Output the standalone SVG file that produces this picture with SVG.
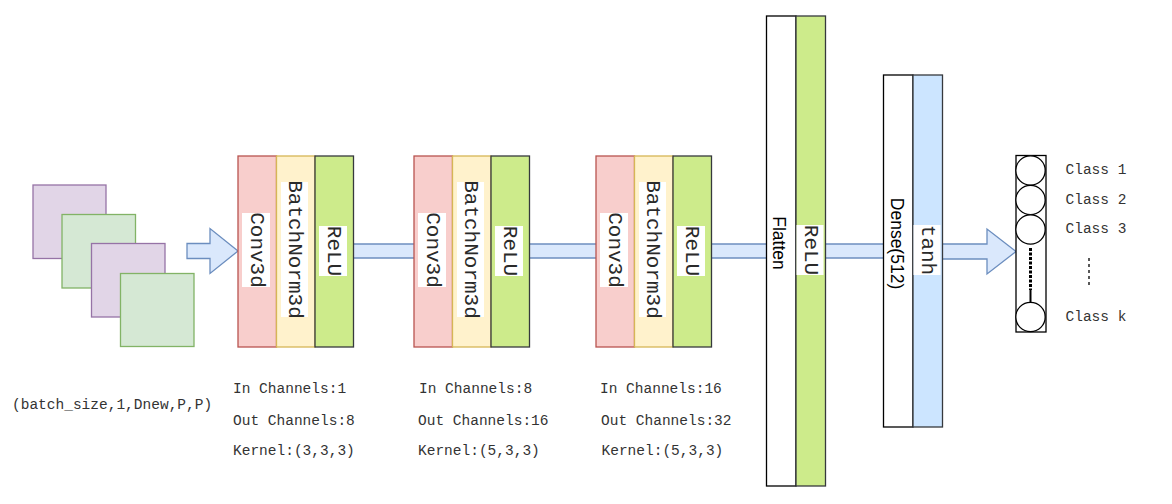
<svg xmlns="http://www.w3.org/2000/svg" width="1172" height="504" viewBox="0 0 1172 504">
  <style>
    .mono { font-family: "Liberation Mono", "Courier New", monospace; fill: #2a2a2a; }
    .sans { font-family: "Liberation Sans", Arial, sans-serif; fill: #000; }
    .small { font-size: 14.5px; fill: #333; }
    .vlabel { font-size: 21px; }
    .slabel { font-size: 17.5px; }
    .purple { fill: #e1d5e7; stroke: #9673a6; stroke-width: 1.3; }
    .green { fill: #d5e8d4; stroke: #82b366; stroke-width: 1.3; }
    .conv { fill: #f8cecc; stroke: #b85450; stroke-width: 1.3; }
    .bn { fill: #fff2cc; stroke: #d6b656; stroke-width: 1.3; }
    .relu { fill: #cdeb8b; stroke: #36393d; stroke-width: 1.3; }
    .plain { fill: #ffffff; stroke: #000000; stroke-width: 1.3; }
    .act { fill: #cce5ff; stroke: #36393d; stroke-width: 1.3; }
    .tag { fill: #ffffff; stroke: none; }
    .band { fill: #dae8fc; stroke: none; }
    .bandedge { stroke: #6c8ebf; stroke-width: 1.3; fill: none; }
    .bigarrow { fill: #dae8fc; stroke: #6c8ebf; stroke-width: 1.3; stroke-linejoin: miter; }
    .neuron { fill: #ffffff; stroke: #000000; stroke-width: 1.3; }
  </style>

  <!-- connectors: flat arrows between the layer stacks -->
  <g id="connectors">
    <polygon class="bigarrow" points="187,243.5 210,243.5 210,228.5 238,251 210,273.5 210,258.5 187,258.5"/>
    <rect class="band" x="353" y="244" width="61" height="14"/>
    <line class="bandedge" x1="353" y1="244" x2="414" y2="244"/>
    <line class="bandedge" x1="353" y1="258" x2="414" y2="258"/>
    <rect class="band" x="530" y="244" width="66" height="14"/>
    <line class="bandedge" x1="530" y1="244" x2="596" y2="244"/>
    <line class="bandedge" x1="530" y1="258" x2="596" y2="258"/>
    <rect class="band" x="712" y="244" width="54" height="14"/>
    <line class="bandedge" x1="712" y1="244" x2="766" y2="244"/>
    <line class="bandedge" x1="712" y1="258" x2="766" y2="258"/>
    <rect class="band" x="825" y="244" width="58" height="14"/>
    <line class="bandedge" x1="825" y1="244" x2="883" y2="244"/>
    <line class="bandedge" x1="825" y1="258" x2="883" y2="258"/>
    <polygon class="bigarrow" points="942,244 987,244 987,229 1016,251.5 987,274 987,259 942,259"/>
  </g>

  <!-- input volume: stacked slices -->
  <g id="input">
    <rect class="purple" x="33" y="185" width="73" height="73.5"/>
    <rect class="green" x="62" y="214.5" width="73.5" height="73.5"/>
    <rect class="purple" x="91.5" y="243.5" width="73.5" height="73.5"/>
    <rect class="green" x="120.5" y="273.5" width="73.5" height="73"/>
    <text class="mono small" x="12" y="409">(batch_size,1,Dnew,P,P)</text>
  </g>

  <!-- conv block 1 -->
  <g id="block1">
    <rect class="conv" x="238" y="156" width="38.5" height="191"/>
    <rect class="bn" x="276.5" y="156" width="38.5" height="191"/>
    <rect class="relu" x="315" y="156" width="38.5" height="191"/>
    <rect class="tag" x="242" y="213" width="28" height="74"/>
    <rect class="tag" x="281" y="182" width="27" height="135"/>
    <rect class="tag" x="319" y="226" width="28" height="50"/>
    <text class="mono vlabel" text-anchor="middle" dominant-baseline="central" transform="translate(256,250) rotate(90)">Conv3d</text>
    <text class="mono vlabel" text-anchor="middle" dominant-baseline="central" transform="translate(294.5,249.5) rotate(90)">BatchNorm3d</text>
    <text class="mono vlabel" text-anchor="middle" dominant-baseline="central" transform="translate(333,251) rotate(90)">ReLU</text>
    <text class="mono small" x="233" y="393">In Channels:1</text>
    <text class="mono small" x="233" y="424.5">Out Channels:8</text>
    <text class="mono small" x="233" y="454.5">Kernel:(3,3,3)</text>
  </g>

  <!-- conv block 2 -->
  <g id="block2">
    <rect class="conv" x="414" y="156" width="38.5" height="191"/>
    <rect class="bn" x="452.5" y="156" width="38.5" height="191"/>
    <rect class="relu" x="491" y="156" width="38.5" height="191"/>
    <rect class="tag" x="418" y="213" width="28" height="74"/>
    <rect class="tag" x="457" y="182" width="27" height="135"/>
    <rect class="tag" x="495" y="226" width="28" height="50"/>
    <text class="mono vlabel" text-anchor="middle" dominant-baseline="central" transform="translate(432,250) rotate(90)">Conv3d</text>
    <text class="mono vlabel" text-anchor="middle" dominant-baseline="central" transform="translate(470.5,249.5) rotate(90)">BatchNorm3d</text>
    <text class="mono vlabel" text-anchor="middle" dominant-baseline="central" transform="translate(509,251) rotate(90)">ReLU</text>
    <text class="mono small" x="419" y="393">In Channels:8</text>
    <text class="mono small" x="418" y="424.5">Out Channels:16</text>
    <text class="mono small" x="418" y="454.5">Kernel:(5,3,3)</text>
  </g>

  <!-- conv block 3 -->
  <g id="block3">
    <rect class="conv" x="596" y="156" width="38.5" height="191"/>
    <rect class="bn" x="634.5" y="156" width="38.5" height="191"/>
    <rect class="relu" x="673" y="156" width="38.5" height="191"/>
    <rect class="tag" x="600" y="213" width="28" height="74"/>
    <rect class="tag" x="639" y="182" width="27" height="135"/>
    <rect class="tag" x="677" y="226" width="28" height="50"/>
    <text class="mono vlabel" text-anchor="middle" dominant-baseline="central" transform="translate(614,250) rotate(90)">Conv3d</text>
    <text class="mono vlabel" text-anchor="middle" dominant-baseline="central" transform="translate(652.5,249.5) rotate(90)">BatchNorm3d</text>
    <text class="mono vlabel" text-anchor="middle" dominant-baseline="central" transform="translate(691,251) rotate(90)">ReLU</text>
    <text class="mono small" x="600" y="393">In Channels:16</text>
    <text class="mono small" x="601" y="424.5">Out Channels:32</text>
    <text class="mono small" x="601.5" y="454.5">Kernel:(5,3,3)</text>
  </g>

  <!-- flatten + relu -->
  <g id="flatten">
    <rect class="plain" x="766.5" y="16" width="29.5" height="470"/>
    <rect class="relu" x="796" y="16" width="29.5" height="470"/>
    <rect class="tag" x="796.5" y="225" width="27" height="50"/>
    <text class="sans slabel" text-anchor="middle" dominant-baseline="central" transform="translate(779,243) rotate(90)">Flatten</text>
    <text class="mono vlabel" text-anchor="middle" dominant-baseline="central" transform="translate(810,250) rotate(90)">ReLU</text>
  </g>

  <!-- dense + tanh -->
  <g id="dense">
    <rect class="plain" x="883.5" y="75" width="29.5" height="352"/>
    <rect class="act" x="913" y="75" width="29.5" height="352"/>
    <rect class="tag" x="913.5" y="225" width="27" height="50"/>
    <text class="sans slabel" text-anchor="middle" dominant-baseline="central" transform="translate(897,243.5) rotate(90)">Dense(512)</text>
    <text class="mono vlabel" text-anchor="middle" dominant-baseline="central" transform="translate(927,250) rotate(90)">tanh</text>
  </g>

  <!-- output layer -->
  <g id="output">
    <rect class="plain" x="1016" y="155.5" width="30" height="176.5"/>
    <circle class="neuron" cx="1030.5" cy="170.5" r="14.7"/>
    <circle class="neuron" cx="1030.5" cy="200" r="14.7"/>
    <circle class="neuron" cx="1030.5" cy="229.5" r="14.7"/>
    <circle class="neuron" cx="1030.5" cy="317" r="14.7"/>
    <line x1="1030.5" y1="248" x2="1030.5" y2="290" stroke="#000" stroke-width="3" stroke-dasharray="3 1.5"/>
    <line x1="1030.5" y1="290" x2="1030.5" y2="302.3" stroke="#000" stroke-width="2"/>
    <text class="mono small" x="1065.5" y="174">Class 1</text>
    <text class="mono small" x="1065.5" y="204">Class 2</text>
    <text class="mono small" x="1065.5" y="233">Class 3</text>
    <line x1="1089" y1="258" x2="1089" y2="287" stroke="#222" stroke-width="1.5" stroke-dasharray="3 3"/>
    <text class="mono small" x="1065.5" y="321">Class k</text>
  </g>
</svg>
